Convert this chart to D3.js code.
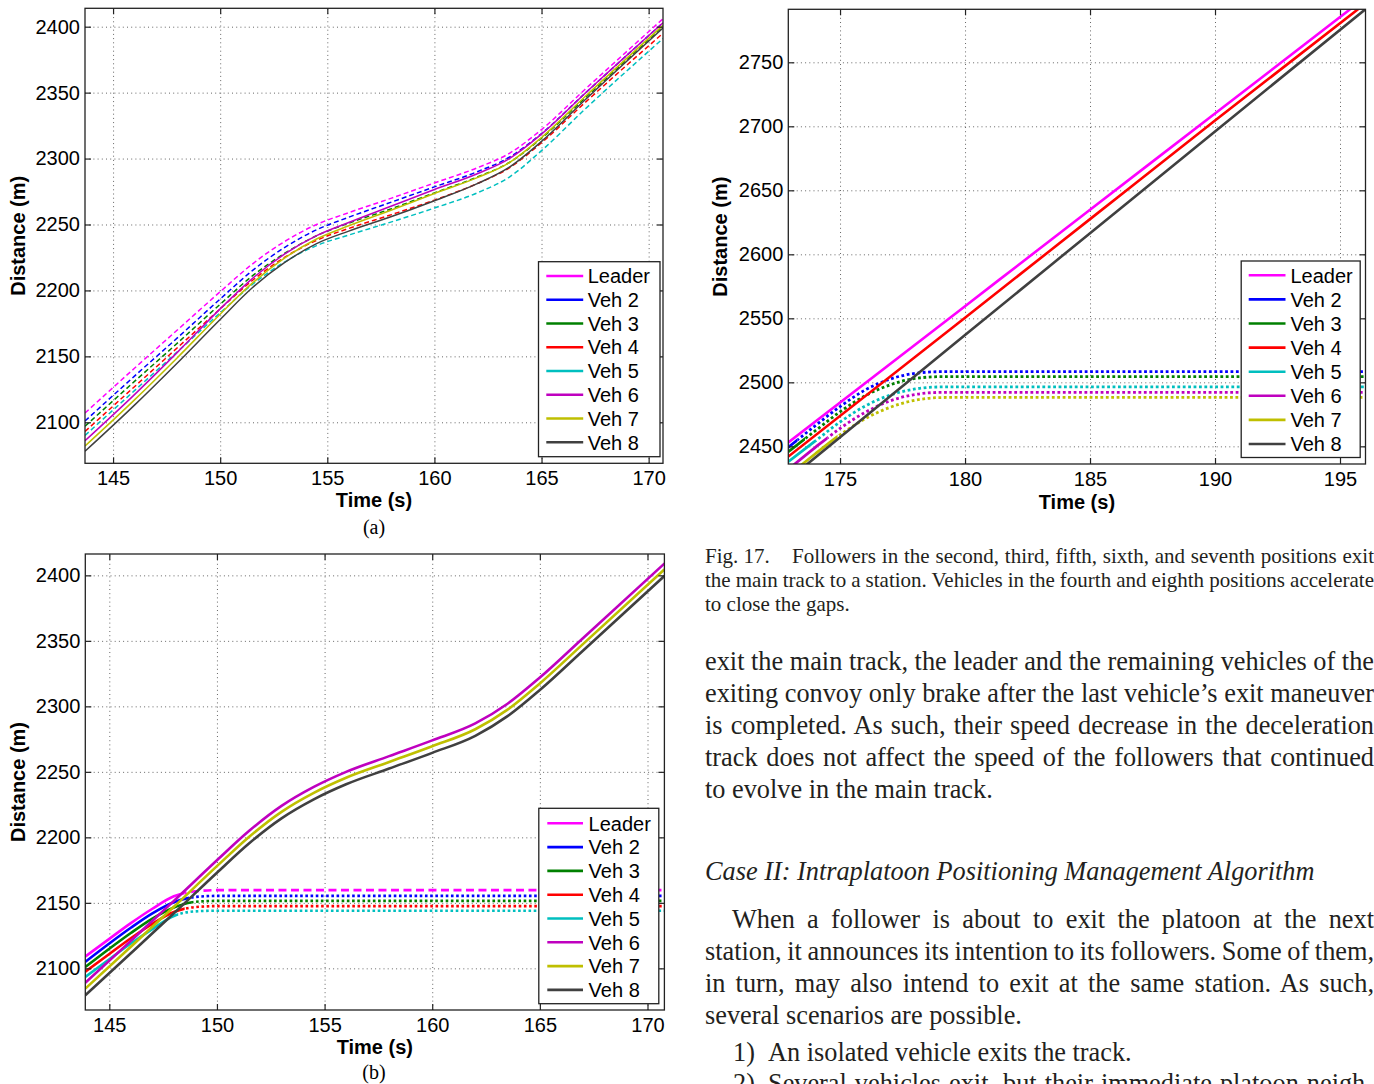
<!DOCTYPE html>
<html><head><meta charset="utf-8">
<script src="https://cdn.jsdelivr.net/npm/d3@7"></script>
<style>
body{margin:0;background:#fff;}
svg{display:block;}
</style></head><body>
<svg id="fig" width="1374" height="1084"></svg>
<script>
// ---------------- DATA ----------------
const seriesNames = ["Leader","Veh 2","Veh 3","Veh 4","Veh 5","Veh 6","Veh 7","Veh 8"];

// Panel (a): all vehicles stay on the main track
const timeA   = [143.69,146,148,150,151.5,153,154.5,156,158,160,162,163.5,165,167,170.67];
const leaderA = [2107,2141,2170,2199,2220,2237,2250,2259,2270,2281.5,2293,2304,2322,2352,2406];
const veh2A   = [2101,2135,2164,2193.5,2215,2232.5,2246,2255.5,2267,2278.5,2290,2301,2319,2349,2403];
const veh3A   = [2097,2131,2160,2189.5,2211,2228,2241.5,2251,2262,2274,2286,2297,2315.5,2345.5,2400];
const veh4A   = [2093,2127,2156.5,2186,2207.5,2225,2238,2247,2257.5,2268.5,2281,2293,2312,2342,2395];
const veh5A   = [2090,2124,2153.5,2183,2204.5,2221.5,2234,2242,2252,2262.5,2274,2286,2306,2337,2391];
const veh6A   = [2086,2121,2153,2186,2209,2227.5,2241.5,2251.5,2264,2276.5,2288.5,2300,2318.5,2349,2403];
const veh7A   = [2082,2117,2149,2182,2205.5,2224.5,2239,2249,2261,2273.5,2285.5,2297,2316,2346.5,2401];
const veh8A   = [2078,2113,2145,2178,2202,2221,2235.5,2245,2256,2268,2281,2293.5,2313,2344,2399];

// Panel (b): leader and vehicles 2-5 exit, 6-8 continue
const timeBExit = [143.885,145,146,147,148,149,150,170.785];
const leaderB = [2109,2122.5,2134.5,2145.5,2155,2158.8,2159.7,2159.7];
const veh2B   = [2105,2119,2131,2142,2150.5,2154.5,2155.3,2155.3];
const veh3B   = [2101,2115,2127,2138,2146.5,2150.8,2151.5,2151.5];
const veh4B   = [2097.5,2111,2123,2134,2143,2146.8,2147.5,2147.5];
const veh5B   = [2093.5,2107,2119,2130,2140,2143.5,2144,2144];
const exitSwitchB = [148.5,148.7,148.8,148.5,148.2];
const timeBMain = [143.885,146,148,150,151.5,153,154.5,156,158,160,162,163.5,165,167,170.785];
const veh6B   = [2089,2121,2151.5,2182.5,2205,2224,2238.5,2250,2262,2274,2287,2302,2322,2352,2409];
const veh7B   = [2084.5,2116.5,2147,2178,2200.5,2219.5,2234,2245.5,2257.5,2269.5,2282.5,2297.5,2317.5,2347.5,2404.5];
const veh8B   = [2079.5,2111.5,2142,2173,2195.5,2214.5,2229,2240.5,2252.5,2264.5,2277.5,2292.5,2312.5,2342.5,2399.5];

// Panel (top right, Fig. 17): vehicles 2,3,5,6,7 exit
const timeCExit = [172.93,174,175,176,177,178,179,180,196.02];
const veh2C = [2449.2,2466,2481,2494,2502.5,2507,2508.3,2508.3,2508.3];
const veh3C = [2445.8,2462,2477,2489.5,2498,2503,2504.4,2504.4,2504.4];
const veh5C = [2438,2454,2469,2481.5,2490,2494.8,2496.4,2496.5,2496.5];
const veh6C = [2432,2449,2464,2476.5,2485.5,2490.5,2492.1,2492.2,2492.2];
const veh7C = [2427,2444,2459,2471.5,2480.5,2486,2488.1,2488.3,2488.3];
const exitSwitchC = [173.3,173.6,174.0,174.5,174.9];
const timeCMain = [172.93,180,185,190,196.02];
const leaderC = [2453,2559.5,2634.8,2710,2800.7];
const veh4C   = [2442,2550.5,2627.5,2704.5,2796];
const veh8C   = [2424,2537,2616.5,2696,2791.5];

// Ticks
const xTicksAB = [145,150,155,160,165,170];
const yTicksAB = [2100,2150,2200,2250,2300,2350,2400];
const xTicksC  = [175,180,185,190,195];
const yTicksC  = [2450,2500,2550,2600,2650,2700,2750];

// ---------------- STYLE ----------------
const colors = ["#ff00ff","#0000ff","#008000","#ff0000","#00bfbf","#bf00bf","#bfbf00","#404040"];
const sansFont = '"Liberation Sans", Arial, Helvetica, sans-serif';
const serifFont = '"Liberation Serif", "Times New Roman", Times, serif';
const fmt = d3.format("d");

const svg = d3.select("#fig");
const defs = svg.append("defs");
let clipCount = 0;

function makePanel(cfg){
  const g = svg.append("g").attr("transform",`translate(${cfg.left},${cfg.top})`);
  const x = d3.scaleLinear().domain(cfg.xDomain).range([0,cfg.width]);
  const y = d3.scaleLinear().domain(cfg.yDomain).range([cfg.height,0]);
  const W = cfg.width, H = cfg.height;
  const gx = g.append("g").attr("transform",`translate(0,${H})`)
    .call(d3.axisBottom(x).tickValues(cfg.xTicks).tickSize(-H).tickFormat(""));
  const gy = g.append("g")
    .call(d3.axisLeft(y).tickValues(cfg.yTicks).tickSize(-W).tickFormat(""));
  [gx,gy].forEach(s=>{
    s.select(".domain").remove();
    s.selectAll("line").attr("stroke","#666").attr("stroke-width",1).attr("stroke-dasharray","1,3.2");
  });
  const id = "clip"+(clipCount++);
  defs.append("clipPath").attr("id",id).append("rect").attr("x",0).attr("y",0).attr("width",W).attr("height",H);
  const plot = g.append("g").attr("clip-path",`url(#${id})`);
  return {g,x,y,W,H,plot,cfg};
}

function finishAxes(p){
  const {g,x,y,W,H,cfg} = p;
  const tk = 6;
  const b = g.append("g").attr("transform",`translate(0,${H})`)
    .call(d3.axisBottom(x).tickValues(cfg.xTicks).tickFormat(fmt).tickSizeInner(-tk).tickSizeOuter(0).tickPadding(8));
  const t = g.append("g")
    .call(d3.axisTop(x).tickValues(cfg.xTicks).tickSizeInner(-tk).tickSizeOuter(0).tickFormat(""));
  const l = g.append("g")
    .call(d3.axisLeft(y).tickValues(cfg.yTicks).tickFormat(fmt).tickSizeInner(-tk).tickSizeOuter(0).tickPadding(5));
  const r = g.append("g").attr("transform",`translate(${W},0)`)
    .call(d3.axisRight(y).tickValues(cfg.yTicks).tickSizeInner(-tk).tickSizeOuter(0).tickFormat(""));
  [b,t,l,r].forEach(s=>{
    s.select(".domain").remove();
    s.selectAll("line").attr("stroke","#222").attr("stroke-width",1.2);
    s.selectAll("text").attr("font-family",sansFont).attr("font-size",20).attr("fill","#000");
  });
  g.append("rect").attr("x",0).attr("y",0).attr("width",W).attr("height",H)
    .attr("fill","none").attr("stroke","#222").attr("stroke-width",1.3);
  g.append("text").attr("x",W/2).attr("y",H+cfg.xLabelDy).attr("text-anchor","middle")
    .attr("font-family",sansFont).attr("font-size",20).attr("font-weight","bold").text("Time (s)");
  g.append("text").attr("transform",`translate(${cfg.yLabelDx},${H/2}) rotate(-90)`).attr("text-anchor","middle")
    .attr("font-family",sansFont).attr("font-size",20).attr("font-weight","bold").text("Distance (m)");
}

function drawSeries(p, times, vals, color, width, segs){
  const line = d3.line().x((d,i)=>p.x(times[i])).y(d=>p.y(d)).curve(d3.curveMonotoneX);
  segs.forEach(s=>{
    const x0 = Math.max(0, p.x(s.t0)), x1 = Math.min(p.W, p.x(s.t1));
    const id = "clip"+(clipCount++);
    defs.append("clipPath").attr("id",id).append("rect").attr("x",x0).attr("y",-5).attr("width",Math.max(0,x1-x0)).attr("height",p.H+10);
    p.plot.append("path").attr("d",line(vals)).attr("fill","none")
      .attr("stroke",color).attr("stroke-width",width)
      .attr("stroke-dasharray",s.dash||null)
      .attr("stroke-linejoin","round")
      .attr("clip-path",`url(#${id})`);
  });
}

function drawLegend(lg){
  const g = svg.append("g");
  g.append("rect").attr("x",lg.x).attr("y",lg.y).attr("width",lg.w).attr("height",lg.h)
    .attr("fill","#fff").attr("stroke","#222").attr("stroke-width",1.3);
  seriesNames.forEach((n,i)=>{
    const yy = lg.y0 + i*lg.dy;
    g.append("line").attr("x1",lg.lx0).attr("x2",lg.lx1).attr("y1",yy).attr("y2",yy)
      .attr("stroke",colors[i]).attr("stroke-width",2.6);
    g.append("text").attr("x",lg.tx).attr("y",yy).attr("dy","0.36em")
      .attr("font-family",sansFont).attr("font-size",20).attr("fill","#000").text(n);
  });
}

// ----- Panel (a)
const pA = makePanel({left:85,top:8.3,width:578,height:455,xDomain:[143.69,170.67],yDomain:[2068.9,2413.95],
  xTicks:xTicksAB,yTicks:yTicksAB,xLabelDy:44,yLabelDx:-60});
const seriesA = [leaderA,veh2A,veh3A,veh4A,veh5A,veh6A,veh7A,veh8A];
seriesA.forEach((v,i)=>{
  drawSeries(pA,timeA,v,colors[i],1.5,[{t0:timeA[0],t1:timeA[timeA.length-1],dash:i<5?"5,3":null}]);
});
finishAxes(pA);
drawLegend({x:538.5,y:261.7,w:121.5,h:195,y0:276,dy:23.76,lx0:546.3,lx1:583.2,tx:587.7});

// ----- Panel (b)
const pB = makePanel({left:85.3,top:554,width:579.1,height:456,xDomain:[143.885,170.785],yDomain:[2068.2,2416.3],
  xTicks:xTicksAB,yTicks:yTicksAB,xLabelDy:44,yLabelDx:-60});
const exitB = [leaderB,veh2B,veh3B,veh4B,veh5B];
exitB.forEach((v,i)=>{
  const tEnd = timeBExit[timeBExit.length-1];
  drawSeries(pB,timeBExit,v,colors[i],2.6,[
    {t0:timeBExit[0],t1:exitSwitchB[i],dash:null},
    {t0:exitSwitchB[i],t1:tEnd,dash:i===0?"8,4.5":"2.6,2.6"}]);
});
[veh6B,veh7B,veh8B].forEach((v,k)=>{
  drawSeries(pB,timeBMain,v,colors[5+k],2.6,[{t0:timeBMain[0],t1:timeBMain[timeBMain.length-1],dash:null}]);
});
finishAxes(pB);
drawLegend({x:538.8,y:808.3,w:120,h:195.4,y0:823.3,dy:23.8,lx0:547.3,lx1:583,tx:588.6});

// ----- Panel (top right)
const pC = makePanel({left:788.3,top:9.3,width:577.2,height:454.7,xDomain:[172.93,196.02],yDomain:[2436.2,2791.4],
  xTicks:xTicksC,yTicks:yTicksC,xLabelDy:45,yLabelDx:-61});
drawSeries(pC,timeCMain,leaderC,colors[0],2.6,[{t0:timeCMain[0],t1:196.02,dash:null}]);
const exitC = [[1,veh2C],[2,veh3C],[4,veh5C],[5,veh6C],[6,veh7C]];
exitC.forEach(([ci,v],k)=>{
  drawSeries(pC,timeCExit,v,colors[ci],2.8,[
    {t0:timeCExit[0],t1:exitSwitchC[k],dash:null},
    {t0:exitSwitchC[k],t1:196.02,dash:"2.8,2.6"}]);
});
drawSeries(pC,timeCMain,veh4C,colors[3],2.6,[{t0:timeCMain[0],t1:196.02,dash:null}]);
drawSeries(pC,timeCMain,veh8C,colors[7],2.6,[{t0:timeCMain[0],t1:196.02,dash:null}]);
finishAxes(pC);
drawLegend({x:1241.2,y:261,w:119,h:196.5,y0:275.3,dy:24.1,lx0:1248.7,lx1:1285.5,tx:1290.4});

// ----- sub-figure labels
svg.append("text").attr("x",374).attr("y",534).attr("text-anchor","middle")
  .attr("font-family",serifFont).attr("font-size",20).text("(a)");
svg.append("text").attr("x",374).attr("y",1079).attr("text-anchor","middle")
  .attr("font-family",serifFont).attr("font-size",20).text("(b)");

// ----- right column text
function textLine(txt,x0,x1,yb,size,justify,italic){
  const t = svg.append("text").attr("x",x0).attr("y",yb).attr("font-family",serifFont)
    .attr("font-size",size).attr("fill","#231f20").text(txt);
  if(italic) t.attr("font-style","italic");
  if(justify){
    const w = t.node().getComputedTextLength();
    const n = (txt.match(/ /g)||[]).length;
    if(n>0) t.style("word-spacing",((x1-x0-w)/n)+"px");
  }
}
const R = 1374;
const capSize = 21, bodySize = 26.3;
textLine("Fig. 17.",705,R,563,capSize,false);
textLine("Followers in the second, third, fifth, sixth, and seventh positions exit",792,R,563,capSize,true);
textLine("the main track to a station. Vehicles in the fourth and eighth positions accelerate",705,R,587,capSize,true);
textLine("to close the gaps.",705,R,611,capSize,false);

const bodyLines = [
  ["exit the main track, the leader and the remaining vehicles of the",705,670,true],
  ["exiting convoy only brake after the last vehicle\u2019s exit maneuver",705,702,true],
  ["is completed. As such, their speed decrease in the deceleration",705,734,true],
  ["track does not affect the speed of the followers that continued",705,766,true],
  ["to evolve in the main track.",705,798,false],
  ["When a follower is about to exit the platoon at the next",732,928,true],
  ["station, it announces its intention to its followers. Some of them,",705,960,true],
  ["in turn, may also intend to exit at the same station. As such,",705,992,true],
  ["several scenarios are possible.",705,1024,false]
];
bodyLines.forEach(([t,x,y,j])=>textLine(t,x,R,y,bodySize,j));
textLine("Case II: Intraplatoon Positioning Management Algorithm",705,R,880,bodySize,false,true);
textLine("1)",733,R,1061,bodySize,false);
textLine("An isolated vehicle exits the track.",768,R,1061,bodySize,false);
textLine("2)",733,R,1092,bodySize,false);
textLine("Several vehicles exit, but their immediate platoon neigh-",768,R,1092,bodySize,true);
</script>
</body></html>
